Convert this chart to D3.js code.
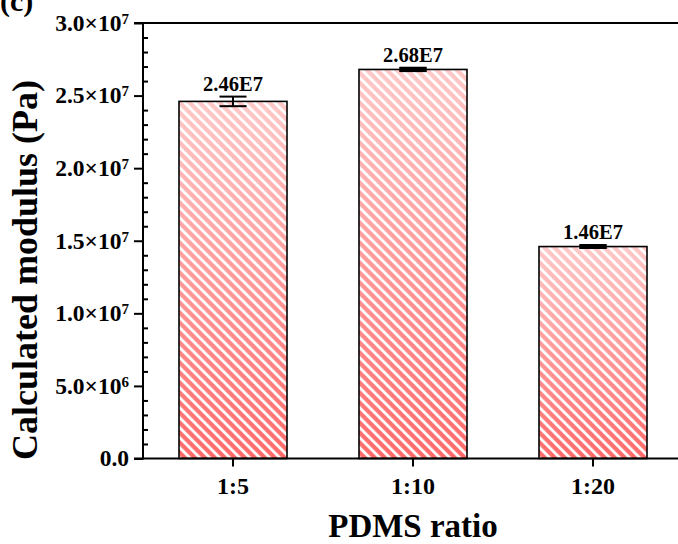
<!DOCTYPE html>
<html>
<head>
<meta charset="utf-8">
<script src="https://cdn.jsdelivr.net/npm/d3@7"></script>
<style>
  html, body { margin: 0; padding: 0; background: #fff; }
  svg { display: block; }
  text { font-family: "Liberation Serif", "Times New Roman", serif; font-weight: bold; fill: #000; }
</style>
</head>
<body>
<svg id="chart" width="678" height="544"></svg>
<script>
// ---- data ----
const categories = ["1:5", "1:10", "1:20"];
const modulus = [2.46e7, 2.68e7, 1.46e7];
const errors = [3.3e5, 1.1e5, 1.0e5];
const valueLabels = ["2.46E7", "2.68E7", "1.46E7"];
const yTickValues = [0, 5e6, 1e7, 1.5e7, 2e7, 2.5e7, 3e7];
const yTickMantissa = ["0.0", "5.0", "1.0", "1.5", "2.0", "2.5", "3.0"];
const yTickExponent = ["", "6", "7", "7", "7", "7", "7"];
const yMinorStep = 1e6;
const yTitle = "Calculated modulus (Pa)";
const xTitle = "PDMS ratio";

// ---- layout ----
const svg = d3.select("#chart");
const mLeft = 143, mRight = 683, mTop = 23, mBottom = 458.5;

const x = d3.scaleBand().domain(categories).range([mLeft, mRight]).paddingInner(0.4).paddingOuter(0.2);
const y = d3.scaleLinear().domain([0, 3e7]).range([mBottom, mTop]);

const defs = svg.append("defs");
const grad = defs.append("linearGradient").attr("id", "barGrad")
  .attr("x1", 0).attr("y1", 0).attr("x2", 0).attr("y2", 1);
grad.append("stop").attr("offset", "0%").attr("stop-color", "#ffc8c8");
grad.append("stop").attr("offset", "100%").attr("stop-color", "#ff6a6a");

const pat = defs.append("pattern").attr("id", "stripes")
  .attr("patternUnits", "userSpaceOnUse")
  .attr("width", 7.07).attr("height", 10)
  .attr("patternTransform", "rotate(-45)");
pat.append("rect").attr("x", 0).attr("y", 0).attr("width", 2.8).attr("height", 10).attr("fill", "#fff");

// bars
const bars = svg.append("g");
bars.selectAll("rect.fill").data(categories).join("rect")
  .attr("class", "fill")
  .attr("x", d => x(d)).attr("width", x.bandwidth())
  .attr("y", (d, i) => y(modulus[i])).attr("height", (d, i) => y(0) - y(modulus[i]))
  .attr("fill", "url(#barGrad)");
bars.selectAll("rect.stripe").data(categories).join("rect")
  .attr("class", "stripe")
  .attr("x", d => x(d)).attr("width", x.bandwidth())
  .attr("y", (d, i) => y(modulus[i])).attr("height", (d, i) => y(0) - y(modulus[i]))
  .attr("fill", "url(#stripes)")
  .attr("stroke", "#000").attr("stroke-width", 1.6);

// error bars
const eb = svg.append("g").attr("stroke", "#000").attr("stroke-width", 2);
categories.forEach((c, i) => {
  const cx = x(c) + x.bandwidth() / 2;
  const y1 = y(modulus[i] + errors[i]), y2 = y(modulus[i] - errors[i]);
  eb.append("line").attr("x1", cx).attr("x2", cx).attr("y1", y1).attr("y2", y2);
  eb.append("line").attr("x1", cx - 13.5).attr("x2", cx + 13.5).attr("y1", y1).attr("y2", y1);
  eb.append("line").attr("x1", cx - 13.5).attr("x2", cx + 13.5).attr("y1", y2).attr("y2", y2);
  if (y2 - y1 < 5) {
    eb.append("rect").attr("x", cx - 13.5).attr("y", y1 - 1).attr("width", 27).attr("height", y2 - y1 + 2)
      .attr("fill", "#000").attr("stroke", "none");
  }
});

// value labels
svg.append("g").selectAll("text").data(categories).join("text")
  .attr("x", d => x(d) + x.bandwidth() / 2)
  .attr("y", (d, i) => y(modulus[i] + errors[i]) - 6)
  .attr("text-anchor", "middle")
  .attr("font-size", 20.5)
  .text((d, i) => valueLabels[i]);

// y axis
const yAxis = d3.axisLeft(y).tickValues(yTickValues).tickSize(9).tickFormat("");
const gy = svg.append("g").attr("transform", `translate(${mLeft},0)`).call(yAxis);
gy.select(".domain").remove();
gy.selectAll(".tick line").attr("stroke", "#000").attr("stroke-width", 2);
const minorVals = d3.range(0, 3e7 + 1, yMinorStep).filter(v => v % 5e6 !== 0);
const yMinor = d3.axisRight(y).tickValues(minorVals).tickSize(5).tickFormat("");
const gym = svg.append("g").attr("transform", `translate(${mLeft},0)`).call(yMinor);
gym.select(".domain").remove();
gym.selectAll(".tick line").attr("stroke", "#000").attr("stroke-width", 2);

// y tick labels with superscript
const yl = svg.append("g").selectAll("text").data(yTickValues).join("text")
  .attr("x", mLeft - 14)
  .attr("y", d => y(d))
  .attr("dy", "0.33em")
  .attr("text-anchor", "end")
  .attr("font-size", 23.5);
yl.each(function(d, i) {
  const t = d3.select(this);
  if (yTickExponent[i]) {
    t.append("tspan").text(yTickMantissa[i] + "\u00d710");
    t.append("tspan").attr("font-size", 15).attr("dy", -7).text(yTickExponent[i]);
  } else {
    t.append("tspan").text(yTickMantissa[i]);
  }
});

// x axis
const xAxis = d3.axisBottom(x).tickSize(8).tickFormat("");
const gx = svg.append("g").attr("transform", `translate(0,${mBottom})`).call(xAxis);
gx.select(".domain").remove();
gx.selectAll(".tick line").attr("stroke", "#000").attr("stroke-width", 2);
svg.append("g").selectAll("text").data(categories).join("text")
  .attr("x", d => x(d) + x.bandwidth() / 2)
  .attr("y", 494)
  .attr("text-anchor", "middle")
  .attr("font-size", 24)
  .text(d => d);

// frame lines (left axis, bottom axis, top line)
const frame = svg.append("g").attr("stroke", "#000").attr("stroke-width", 2);
frame.append("line").attr("x1", mLeft).attr("x2", mLeft).attr("y1", mTop).attr("y2", mBottom + 1);
frame.append("line").attr("x1", mLeft - 9).attr("x2", mRight).attr("y1", mBottom).attr("y2", mBottom);
frame.append("line").attr("x1", mLeft - 9).attr("x2", mRight).attr("y1", mTop).attr("y2", mTop);

// titles
svg.append("text")
  .attr("transform", `translate(37,270) rotate(-90)`)
  .attr("text-anchor", "middle")
  .attr("font-size", 36)
  .text(yTitle);
svg.append("text")
  .attr("x", (mLeft + mRight) / 2)
  .attr("y", 537)
  .attr("text-anchor", "middle")
  .attr("font-size", 33)
  .text(xTitle);

// panel label (cut off at top, as in the source figure)
svg.append("text").attr("x", 0).attr("y", 11).attr("font-size", 30).text("(c)");
</script>
</body>
</html>
